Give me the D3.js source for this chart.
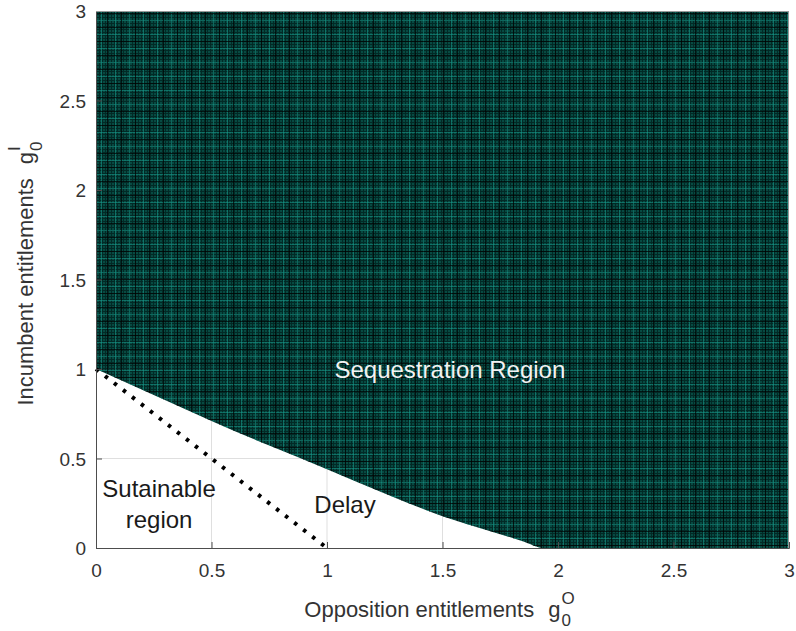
<!DOCTYPE html>
<html>
<head>
<meta charset="utf-8">
<script src="https://cdn.jsdelivr.net/npm/d3@7"></script>
<style>
  body { margin: 0; background: #fff; }
  text { font-family: "Liberation Sans", Arial, sans-serif; }
</style>
</head>
<body>
<svg id="chart"></svg>
<script>
// edge of the sequestration region
var boundaryX = [0, 0.25, 0.5, 0.75, 1.0, 1.25, 1.5, 1.7, 1.85, 1.94, 3];
var boundaryY = [1.0, 0.855, 0.71, 0.572, 0.44, 0.305, 0.178, 0.097, 0.037, 0.0, 0.0];

// dotted frontier of the sustainable region
var frontierX = [0, 1];
var frontierY = [1, 0];

var xTicks = [0, 0.5, 1, 1.5, 2, 2.5, 3];
var yTicks = [0, 0.5, 1, 1.5, 2, 2.5, 3];

var regionNames = ["Sequestration Region", "Delay", "Sutainable", "region"];
var regionNameX = [1.532, 1.078, 0.273, 0.273];
var regionNameY = [0.95, 0.196, 0.285, 0.112];

var svgWidth = 796, svgHeight = 631;
var margin = { left: 96, right: 7, top: 11, bottom: 83 };
var width = svgWidth - margin.left - margin.right,
    height = svgHeight - margin.top - margin.bottom;

var svg = d3.select("#chart")
  .attr("width", svgWidth)
  .attr("height", svgHeight);

var x = d3.scaleLinear().domain([0, 3]).range([0, width]);
var y = d3.scaleLinear().domain([0, 3]).range([height, 0]);

// mesh look of the surface plot
var defs = svg.append("defs");
var fine = defs.append("pattern")
  .attr("id", "mesh")
  .attr("patternUnits", "userSpaceOnUse")
  .attr("width", 3).attr("height", 3);
fine.append("rect").attr("width", 3).attr("height", 3).attr("fill", "#074a42");
fine.append("rect").attr("width", 1).attr("height", 3).attr("fill", "#022a26");
fine.append("rect").attr("width", 3).attr("height", 1).attr("fill", "#022a26");

var coarse = defs.append("pattern")
  .attr("id", "mesh2")
  .attr("patternUnits", "userSpaceOnUse")
  .attr("width", 14).attr("height", 14);
coarse.append("rect").attr("x", 5).attr("width", 1).attr("height", 14).attr("fill", "#18988a").attr("opacity", 0.55);
coarse.append("rect").attr("y", 9).attr("width", 14).attr("height", 1).attr("fill", "#18988a").attr("opacity", 0.55);
coarse.append("rect").attr("x", 11).attr("width", 1).attr("height", 14).attr("fill", "#000").attr("opacity", 0.7);
coarse.append("rect").attr("y", 2).attr("width", 14).attr("height", 1).attr("fill", "#000").attr("opacity", 0.7);

var g = svg.append("g")
  .attr("transform", "translate(" + margin.left + "," + margin.top + ")");

// region above the edge, up to the top of the axes
var edge = boundaryX.map((d, i) => [d, boundaryY[i]]);
var region = d3.area()
  .x(d => x(d[0]))
  .y0(y(3))
  .y1(d => y(d[1]))
  .curve(d3.curveMonotoneX);

g.append("path")
  .attr("d", region(edge))
  .attr("fill", "url(#mesh)");
g.append("path")
  .attr("d", region(edge))
  .attr("fill", "url(#mesh2)");

// grid
g.append("g").selectAll("line")
  .data(xTicks.slice(1, -1))
  .enter().append("line")
  .attr("x1", d => x(d)).attr("x2", d => x(d))
  .attr("y1", 0).attr("y2", height)
  .attr("stroke", "rgba(38,38,38,0.15)");
g.append("g").selectAll("line")
  .data(yTicks.slice(1, -1))
  .enter().append("line")
  .attr("y1", d => y(d)).attr("y2", d => y(d))
  .attr("x1", 0).attr("x2", width)
  .attr("stroke", "rgba(38,38,38,0.15)");

// dotted frontier
var line = d3.line()
  .x(d => x(d[0]))
  .y(d => y(d[1]));
g.append("path")
  .attr("d", line(frontierX.map((d, i) => [d, frontierY[i]])))
  .attr("fill", "none")
  .attr("stroke", "#000")
  .attr("stroke-width", 4)
  .attr("stroke-dasharray", "3.5,7.9");

// region names
g.append("g").selectAll("text")
  .data(regionNames)
  .enter().append("text")
  .attr("x", (d, i) => x(regionNameX[i]))
  .attr("y", (d, i) => y(regionNameY[i]))
  .attr("text-anchor", "middle")
  .attr("font-size", "24px")
  .attr("fill", (d, i) => i == 0 ? "#f2f2f2" : "#1a1a1a")
  .text(d => d);

// axes, ticks pointing inward
var xAxis = d3.axisBottom(x).tickValues(xTicks).tickFormat(d3.format("~g"))
  .tickSize(-6).tickPadding(16);
var yAxis = d3.axisLeft(y).tickValues(yTicks).tickFormat(d3.format("~g"))
  .tickSize(-6).tickPadding(10);

var xg = g.append("g")
  .attr("transform", "translate(0," + height + ")")
  .call(xAxis);
var yg = g.append("g").call(yAxis);

[xg, yg].forEach(a => {
  a.select(".domain").attr("stroke", "#4d4d4d");
  a.selectAll(".tick line").attr("stroke", "#4d4d4d");
  a.selectAll(".tick text")
    .attr("fill", "#333")
    .attr("font-size", "19px")
    .attr("font-family", "'Liberation Sans', Arial, sans-serif");
});
yg.selectAll(".tick text").attr("dy", "0.35em");

// box top and right
g.append("line").attr("x1", 0).attr("x2", width).attr("y1", 0.5).attr("y2", 0.5)
  .attr("stroke", "#999");
g.append("line").attr("x1", width - 0.5).attr("x2", width - 0.5).attr("y1", 0).attr("y2", height)
  .attr("stroke", "#999");

// axis labels with g sub 0, sup O / I
function axisLabel(parent, main, sup) {
  var lab = parent.append("g");
  var t = lab.append("text")
    .attr("font-size", "22px").attr("fill", "#333")
    .text(main);
  var w = t.node().getComputedTextLength();
  var gx = w + 14;
  var gt = lab.append("text")
    .attr("x", gx).attr("font-size", "22px").attr("fill", "#333").text("g");
  var gw = gt.node().getComputedTextLength();
  lab.append("text")
    .attr("x", gx + gw + 1).attr("y", -13)
    .attr("font-size", "17px").attr("fill", "#333").text(sup);
  lab.append("text")
    .attr("x", gx + gw + 1).attr("y", 9)
    .attr("font-size", "17px").attr("fill", "#333").text("0");
  var total = lab.node().getBBox().width;
  return { node: lab, width: total };
}

var xl = axisLabel(svg, "Opposition entitlements", "O");
xl.node.attr("transform", "translate(" + (margin.left + width / 2 - xl.width / 2 - 3) + ",617)");

var yl = axisLabel(svg, "Incumbent entitlements", "I");
yl.node.attr("transform", "translate(33," + (margin.top + height / 2 + yl.width / 2 - 6) + ")rotate(-90)");
</script>
</body>
</html>
